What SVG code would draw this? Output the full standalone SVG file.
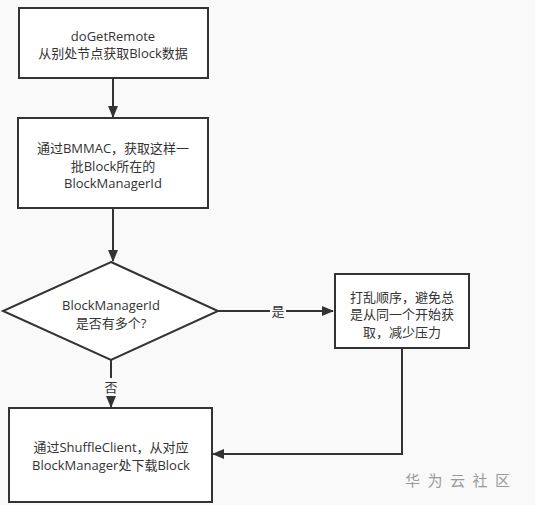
<svg xmlns="http://www.w3.org/2000/svg" width="535" height="505" viewBox="0 0 535 505">
<defs>
<marker id="ah" markerWidth="12" markerHeight="10" refX="11" refY="5" orient="auto" markerUnits="userSpaceOnUse">
<path d="M0,0 L12,5 L0,10 Z" fill="#333"/>
</marker>
<style>
.box{fill:#fff;stroke:#333;stroke-width:2}
.t{font-family:"Open Sans","Noto Sans CJK SC",sans-serif;font-size:13px;fill:#333;text-anchor:middle}
.ln{fill:none;stroke:#333;stroke-width:2;marker-end:url(#ah)}
.lbl{font-family:"Noto Sans CJK SC",sans-serif;font-size:13px;fill:#333;text-anchor:middle}
</style>
</defs>
<rect width="535" height="505" fill="#f9f9f9"/>
<g id="connectors">
<line class="ln" x1="113" y1="78" x2="113" y2="117"/>
<line class="ln" x1="113" y1="208" x2="113" y2="261"/>
<line class="ln" x1="218" y1="311" x2="333" y2="311"/>
<line class="ln" x1="111" y1="360" x2="111" y2="407"/>
<polyline class="ln" points="402,348 402,454 213,454"/>
<rect x="270" y="302" width="16" height="18" fill="#f9f9f9"/>
<text class="lbl" x="278" y="316">是</text>
<rect x="103" y="378" width="16" height="18" fill="#f9f9f9"/>
<text class="lbl" x="111" y="392">否</text>
</g>
<g id="n1">
<rect class="box" x="19" y="8" width="189" height="70"/>
<text class="t" x="113" y="40.5">doGetRemote</text>
<text class="t" x="113" y="58">从别处节点获取Block数据</text>
</g>
<g id="n2">
<rect class="box" x="18" y="118" width="190" height="90"/>
<text class="t" x="113" y="153">通过BMMAC，获取这样一</text>
<text class="t" x="113" y="170.5">批Block所在的</text>
<text class="t" x="113" y="188">BlockManagerId</text>
</g>
<g id="n3">
<polygon class="box" points="111,262 218,311 111,360 3,311"/>
<text class="t" x="111" y="310">BlockManagerId</text>
<text class="t" x="111" y="327.5">是否有多个?</text>
</g>
<g id="n4">
<rect class="box" x="335" y="274" width="134" height="74"/>
<text class="t" x="402" y="301.5">打乱顺序，避免总</text>
<text class="t" x="402" y="319">是从同一个开始获</text>
<text class="t" x="402" y="336.5">取，减少压力</text>
</g>
<g id="n5">
<rect class="box" x="9" y="408" width="203" height="94"/>
<text class="t" x="111" y="452">通过ShuffleClient，从对应</text>
<text class="t" x="111" y="469.5">BlockManager处下载Block</text>
</g>
<text x="405" y="486" font-family="Noto Sans CJK SC,sans-serif" font-size="15" fill="#999" letter-spacing="7.5">华为云社区</text>
</svg>
